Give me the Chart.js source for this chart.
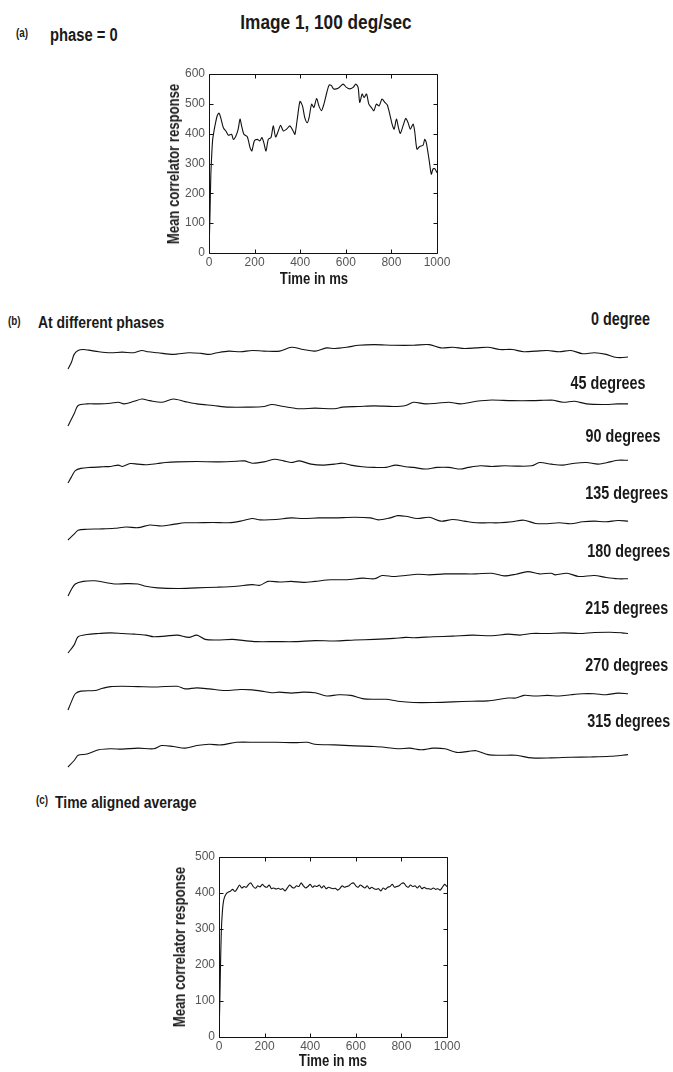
<!DOCTYPE html>
<html><head><meta charset="utf-8">
<script src="https://cdn.jsdelivr.net/npm/chart.js@4.4.1/dist/chart.umd.min.js"></script>
<style>
html,body{margin:0;padding:0;background:#fff;}
body{width:673px;height:1072px;position:relative;overflow:hidden;}
.lbl{position:absolute;white-space:nowrap;line-height:1;color:#1a1a1a;font-weight:bold;}
canvas{position:absolute;}
</style></head><body>
<script>
// ---------- DATA ----------
// (a) phase = 0
const timeA = [0,4,8,12,16,20,26,36,44,53,63,74,85,99,107,118,128,136,143,153,168,180,188,199,212,223,232,241,250,260,272,282,292,304,314,326,340,355,369,377,388,399,410,420,431,439,450,460,472,482,493,504,515,527,537,547,566,588,603,617,632,644,654,661,672,680,691,701,712,723,734,746,759,771,782,793,803,812,822,831,839,851,863,873,883,895,902,912,924,939,946,953,965,975,982,990,1000];
const valueA = [0,120,260,330,380,400,426,460,469,449,420,409,395,398,381,392,415,449,426,398,390,353,342,376,381,376,387,368,342,381,387,426,389,409,428,409,415,426,409,398,454,508,493,454,437,454,499,488,518,493,477,499,533,563,561,550,552,566,555,550,555,566,555,505,533,521,533,499,488,477,499,493,516,505,496,465,432,415,449,420,401,426,451,437,415,432,409,348,357,361,381,370,314,264,281,283,269];

// (b) traces at different phases
const phaseLabels = ['0 degree','45 degrees','90 degrees','135 degrees','180  degrees','215 degrees','270 degrees','315 degrees'];
const tr0T = [0,6,11,18,27,37,55,76,97,118,132,143,160,188,216,238,252,266,287,308,329,350,378,399,420,441,462,476,498,519,547,582,617,645,666,687,708,729,750,771,793,814,835,856,877,898,919,940,961,975,986,1000];
const tr0V = [0,200,450,570,600,580,530,500,520,500,570,530,500,450,500,480,450,500,550,530,570,550,550,670,600,550,650,630,670,730,750,730,730,750,650,670,630,650,670,600,600,530,550,570,530,570,470,500,450,370,350,370];
const tr1T = [0,11,18,34,55,76,90,100,118,132,146,167,188,209,230,259,287,322,350,364,385,413,441,476,490,519,547,582,603,617,638,659,680,701,729,757,793,828,863,884,905,926,954,982,1000];
const tr1V = [0,380,630,680,680,700,730,680,760,830,780,730,830,750,680,630,580,580,600,660,600,530,550,530,580,600,620,600,630,730,680,700,730,680,760,800,780,780,800,730,760,680,660,680,680];
const tr2T = [0,6,13,23,41,62,76,90,97,111,125,139,160,174,195,230,266,301,315,329,350,368,385,399,413,434,455,476,490,505,526,547,568,585,603,617,638,659,680,701,715,736,757,779,800,828,842,863,884,905,926,947,968,982,1000];
const tr2V = [0,180,380,450,480,500,510,550,510,600,580,560,600,630,650,660,650,670,680,610,650,730,680,630,680,580,550,580,610,550,500,480,480,550,500,480,430,480,480,430,480,530,510,530,520,530,630,580,550,610,630,580,650,700,700];
const tr3T = [0,11,18,34,55,83,104,125,146,167,188,209,230,259,287,308,329,343,371,399,420,448,476,512,540,554,575,589,603,624,645,666,687,708,729,750,771,793,814,835,856,877,898,919,940,961,982,1000];
const tr3V = [0,180,300,330,340,360,400,380,460,430,480,530,530,540,530,580,660,620,630,680,660,680,680,700,680,620,680,750,730,660,700,580,630,580,530,530,530,560,610,510,500,530,500,560,580,560,600,580];
const tr4T = [0,6,13,27,48,62,83,104,125,139,160,195,230,266,301,329,343,357,378,399,420,441,469,498,526,547,561,582,603,624,645,673,701,729,757,779,800,821,842,863,870,891,912,940,961,982,1000];
const tr4V = [0,200,370,450,470,430,370,380,370,300,250,230,250,270,300,350,330,450,430,450,420,450,500,500,550,530,630,600,630,670,650,680,680,680,700,620,670,750,680,700,650,700,600,630,570,530,530];
const tr5T = [0,11,18,34,55,76,97,118,139,153,174,195,216,230,245,266,294,315,336,371,406,441,476,512,547,582,603,617,652,687,722,757,786,807,828,856,884,912,940,968,989,1000];
const tr5V = [0,250,500,570,600,620,600,580,550,500,520,550,480,550,420,400,420,380,350,350,350,380,370,400,420,450,480,470,500,520,550,530,580,550,600,600,620,600,630,640,620,600];
const tr6T = [0,6,13,23,48,62,76,97,125,160,195,209,230,252,280,308,329,350,364,378,399,420,441,462,483,505,526,547,568,589,617,652,687,722,750,771,786,800,814,835,856,877,898,919,940,961,982,1000];
const tr6V = [0,250,500,580,600,670,720,730,720,710,730,650,680,650,600,630,620,570,530,550,520,550,530,430,470,450,350,330,330,270,230,230,250,270,280,330,370,370,450,430,450,430,470,500,500,470,520,500];
const tr7T = [0,11,18,34,55,76,97,125,153,167,188,209,230,252,273,301,336,371,406,427,441,476,512,547,568,589,610,631,652,673,694,715,729,750,771,800,828,863,898,933,968,1000];
const tr7V = [0,200,360,400,530,560,550,580,560,660,630,580,660,700,680,760,760,760,750,760,700,680,650,630,600,560,580,530,580,560,450,480,500,380,360,360,280,280,300,310,330,380];

// (c) time aligned average
const timeC = [0,3,6,10,15,20,25,30,35,40,50,60,70,80,90,100,110,120,130,140,150,160,170,180,190,200,210,220,230,240,250,260,270,280,290,300,310,320,330,340,350,360,370,380,390,400,410,420,430,440,450,460,470,480,490,500,510,520,530,540,550,560,570,580,590,600,610,620,630,640,650,660,670,680,690,700,710,720,730,740,750,760,770,780,790,800,810,820,830,840,850,860,870,880,890,900,910,920,930,940,950,960,970,980,990,1000];
const valueC = [0,80,180,290,350,378,390,396,400,402,405,410,404,412,422,414,418,416,424,428,418,413,420,417,424,418,416,422,412,414,411,413,410,412,406,414,422,416,414,420,418,428,420,414,418,424,416,420,418,422,414,420,412,416,414,412,413,408,412,420,416,418,420,426,428,420,416,422,418,414,420,412,416,412,410,412,406,414,410,416,418,424,416,418,420,426,428,420,416,422,418,420,414,420,412,416,412,412,410,414,410,412,408,416,424,418];

// tick settings
const xTicksMax = 1000, xStep = 200;
const yMaxA = 600, yMaxC = 500, yStep = 100;

// ---------- FONTS ----------
function hasFont(name){
  const c=document.createElement('canvas').getContext('2d');
  c.font='40px monospace'; const a=c.measureText('Mean correlator response 0123').width;
  c.font='40px "'+name+'", monospace'; const b=c.measureText('Mean correlator response 0123').width;
  return Math.abs(a-b)>1;
}
const NARROW = hasFont('Liberation Sans Narrow');
const FAM = NARROW ? "'Liberation Sans Narrow', 'Liberation Sans', Arial, sans-serif" : "'Liberation Sans', Arial, sans-serif";
const SX = NARROW ? 1 : 0.82;
const TICK_SIZE = NARROW ? 14 : 12;

function label(text, x, y, size, anchor, rotate){
  const d=document.createElement('div'); d.className='lbl'; d.textContent=text;
  d.style.fontFamily=FAM; d.style.fontSize=size+'px'; d.style.top=y+'px';
  if(rotate){ d.style.left=x+'px'; d.style.transform='translate(-50%,-50%) rotate(-90deg) scaleX('+SX+')'; }
  else if(anchor==='left'){ d.style.left=x+'px'; d.style.transformOrigin='0 50%'; d.style.transform='translateY(-50%) scaleX('+SX+')'; }
  else if(anchor==='right'){ d.style.right=(673-x)+'px'; d.style.transformOrigin='100% 50%'; d.style.transform='translateY(-50%) scaleX('+SX+')'; }
  else { d.style.left=x+'px'; d.style.transform='translate(-50%,-50%) scaleX('+SX+')'; }
  document.body.appendChild(d);
}
function pts(ts, vs){ return ts.map((t,i)=>({x:t,y:vs[i]})); }

// box + inward ticks, drawn from the chart's own scales
const boxTicks = { id:'boxTicks', afterDraw(chart){
  const {ctx, chartArea:a, scales:{x,y}} = chart;
  const L=Math.round(a.left)+0.5, R=Math.round(a.right)+0.5, T=Math.round(a.top)+0.5, B=Math.round(a.bottom)+0.5;
  ctx.save(); ctx.strokeStyle='#111'; ctx.lineWidth=1; ctx.beginPath();
  ctx.rect(L,T,R-L,B-T);
  x.ticks.forEach(t=>{ const p=Math.round(x.getPixelForValue(t.value))+0.5; ctx.moveTo(p,B); ctx.lineTo(p,B-4); ctx.moveTo(p,T); ctx.lineTo(p,T+4); });
  y.ticks.forEach(t=>{ const p=Math.round(y.getPixelForValue(t.value))+0.5; ctx.moveTo(L,p); ctx.lineTo(L+4,p); ctx.moveTo(R,p); ctx.lineTo(R-4,p); });
  ctx.stroke(); ctx.restore();
}};

function mkCanvas(left, top, w, h){
  const c=document.createElement('canvas'); c.width=w; c.height=h;
  c.style.left=left+'px'; c.style.top=top+'px'; c.style.width=w+'px'; c.style.height=h+'px';
  document.body.appendChild(c); return c;
}

function plot(area, data, yMax){
  const left=area.l-70, top=area.t-12, w=(area.r-area.l)+70+24, h=(area.b-area.t)+12+30;
  const c=mkCanvas(left, top, w, h);
  const tickFont={family:FAM, size:TICK_SIZE};
  new Chart(c, {
    type:'line',
    data:{datasets:[{data, borderColor:'#111', borderWidth:1.1, pointRadius:0, tension:0.25, fill:false}]},
    options:{
      responsive:false, animation:false, devicePixelRatio:1,
      layout:{padding:{left:0,right:24,top:12,bottom:4}},
      plugins:{legend:{display:false}, tooltip:{enabled:false}, title:{display:false}},
      scales:{
        x:{type:'linear', min:0, max:xTicksMax, grid:{display:false, drawTicks:false}, border:{display:false},
           ticks:{stepSize:xStep, padding:2, color:'#555', font:tickFont, maxRotation:0, autoSkip:false, callback:v=>String(v)},
           afterFit(s){ s.height=26; }},
        y:{type:'linear', min:0, max:yMax, grid:{display:false, drawTicks:false}, border:{display:false},
           ticks:{stepSize:yStep, padding:4, color:'#555', font:tickFont, autoSkip:false, callback:v=>String(v)},
           afterFit(s){ s.width=70; }}
      }
    },
    plugins:[boxTicks]
  });
}

function trace(baseY, ts, vs){
  const x0=68, x1=628, hh=26, pad=2;
  const c=mkCanvas(x0-pad, baseY-hh-pad-6, (x1-x0)+2*pad, hh+2*pad+6);
  new Chart(c, {
    type:'line',
    data:{datasets:[{data:pts(ts,vs), borderColor:'#111', borderWidth:1.1, pointRadius:0, tension:0.3, fill:false, clip:false}]},
    options:{
      responsive:false, animation:false, devicePixelRatio:1,
      layout:{padding:{left:pad,right:pad,bottom:pad,top:pad+6}},
      plugins:{legend:{display:false}, tooltip:{enabled:false}},
      scales:{ x:{type:'linear', min:0, max:1000, display:false}, y:{type:'linear', min:0, max:800, display:false} }
    }
  });
}

// ---------- LAYOUT ----------
label('Image 1, 100 deg/sec', 326, 21, 21, 'center');
label('(a)', 16, 33, 12, 'left');
label('phase = 0', 50, 35, 18, 'left');
plot({l:209,t:74,r:437,b:253}, pts(timeA,valueA), yMaxA);
label('Mean correlator response', 174, 164, 16, 'center', true);
label('Time  in ms', 314, 279, 16, 'center');

label('(b)', 8, 321, 12, 'left');
label('At different phases', 38, 322, 17, 'left');
const trT=[tr0T,tr1T,tr2T,tr3T,tr4T,tr5T,tr6T,tr7T];
const trV=[tr0V,tr1V,tr2V,tr3V,tr4V,tr5V,tr6V,tr7V];
const baseYs=[369,426,483,540,596,653,710,767];
const labY=[320,384,437,494,552,609,666,722];
const labR=[650,645,660,668,670,668,668,670];
for(let i=0;i<8;i++){ trace(baseYs[i], trT[i], trV[i]); label(phaseLabels[i], labR[i], labY[i], 17.5, 'right'); }

label('(c)', 36, 800, 12, 'left');
label('Time aligned average', 55, 802, 17, 'left');
plot({l:219,t:857,r:447,b:1037}, pts(timeC,valueC), yMaxC);
label('Mean correlator response', 180, 947, 16, 'center', true);
label('Time  in ms', 333, 1061, 16, 'center');
</script>
</body></html>
